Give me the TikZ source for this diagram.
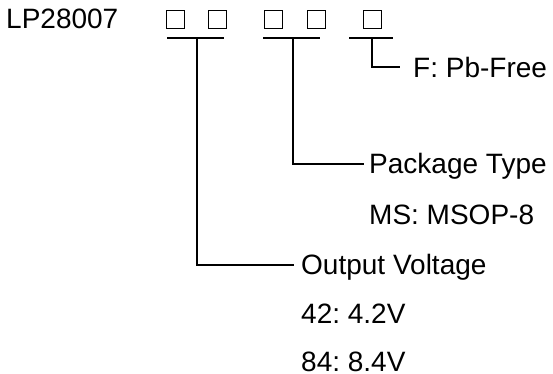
\documentclass[tikz,border=0pt]{standalone}
\usepackage{fontspec}
\setmainfont{Liberation Sans}
\usetikzlibrary{positioning}
\frenchspacing

\tikzset{
  digit/.style={draw, line width=0.9pt, minimum size=18pt, inner sep=0pt},
  lbl/.style={anchor=base west, inner sep=0pt},
  bar/.style={line width=1.5pt}
}

\begin{document}
\begin{tikzpicture}[x=1pt, y=-1pt, font=\fontsize{28}{33}\selectfont]
  \useasboundingbox (0,0) rectangle (553,374);

  \node[lbl] (part) at (6,28.5) {LP28007};

  % the five code boxes
  \node[digit] (d1) at (175.5,19.5) {};
  \node[digit] (d2) at (217.5,19.5) {};
  \node[digit] (d3) at (273.5,19.5) {};
  \node[digit] (d4) at (316,19.5) {};
  \node[digit] (d5) at (372.5,19.5) {};

  % underlines
  \coordinate (u1a) at (167,38);
  \coordinate (u1b) at (224,38);
  \coordinate (u2a) at (263,38);
  \coordinate (u2b) at (320,38);
  \coordinate (u3a) at (349,38);
  \coordinate (u3b) at (393,38);
  \draw[bar] (u1a) -- (u1b);
  \draw[bar] (u2a) -- (u2b);
  \draw[bar] (u3a) -- (u3b);

  % labels
  \node[lbl] (free) at (413,77.5) {F: Pb-Free};
  \node[lbl] (pkg) at (369,173.5) {Package Type};
  \node[lbl] (msop) at (369,224) {MS: MSOP-8};
  \node[lbl] (vout) at (301,274.5) {Output Voltage};
  \node[lbl] (v42) at (301,323) {42: 4.2V};
  \node[lbl] (v84) at (301,371.5) {84: 8.4V};

  % leaders
  \coordinate (t1) at (197,38);
  \coordinate (t2) at (293,38);
  \coordinate (t3) at (372,38);
  \coordinate (e1) at (294,265);
  \coordinate (e2) at (364,164);
  \coordinate (e3) at (400,67);
  \draw[bar] (t1) |- (e1);
  \draw[bar] (t2) |- (e2);
  \draw[bar] (t3) |- (e3);
\end{tikzpicture}
\end{document}
